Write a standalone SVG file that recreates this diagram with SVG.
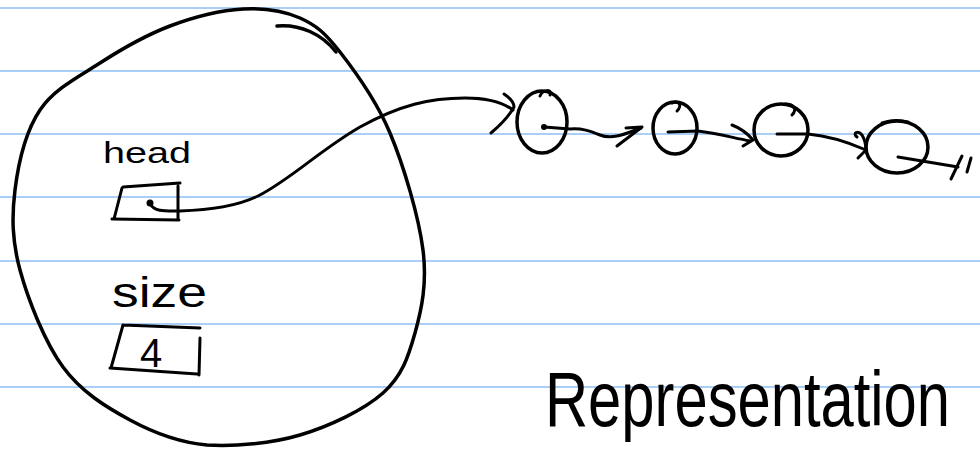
<svg xmlns="http://www.w3.org/2000/svg" width="980" height="449" viewBox="0 0 980 449">
<style>
.rule{stroke:#a9cff6;stroke-width:2}
.ink{fill:none;stroke:#000;stroke-width:3.5;stroke-linecap:round;stroke-linejoin:round}
.thin{fill:none;stroke:#000;stroke-width:3;stroke-linecap:round;stroke-linejoin:round}
.hand{font-family:"Liberation Sans",Arial,sans-serif;fill:#000}
</style>
<rect width="980" height="449" fill="#fff"/>
<g id="paper-lines">
<line class="rule" x1="0" y1="8" x2="980" y2="8"/>
<line class="rule" x1="0" y1="71" x2="980" y2="71"/>
<line class="rule" x1="0" y1="134" x2="980" y2="134"/>
<line class="rule" x1="0" y1="197" x2="980" y2="197"/>
<line class="rule" x1="0" y1="261" x2="980" y2="261"/>
<line class="rule" x1="0" y1="324" x2="980" y2="324"/>
<line class="rule" x1="0" y1="387" x2="980" y2="387"/>
</g>
<g id="object">
<path class="ink" d="M243,9 C264.7,7.7 283.8,10.8 300,18 C316.2,25.2 325,32.8 340,52 C355,71.2 376.2,100 390,133 C403.8,166 418.8,216.7 423,250 C427.2,283.3 421.7,309.2 415,333 C408.3,356.8 402.2,376 383,393 C363.8,410 329.3,426.3 300,435 C270.7,443.7 235.3,446.5 207,445 C178.7,442.5 154,433 130,420 C106,407 81.3,392 63,367 C44.7,342 28,299.5 20,270 C12,240.5 11.7,216.7 15,190 C18.3,163.3 25.8,131.2 40,110 C54.2,88.8 78.3,77 100,63 C121.7,49 146.2,35 170,26 C193.8,17 221.3,10.3 243,9 Z"/>
<path class="ink" d="M277,26 C300,24 322,34 336,52" stroke-width="4.5"/>
</g>
<g id="head-field">
<text class="hand" x="103" y="163" font-size="30" textLength="88" lengthAdjust="spacingAndGlyphs">head</text>
<path class="thin" d="M123,187 L180,183 M178,186 L178,220 M112,219 L179,220 M122,188 L114,219"/>
<circle cx="150" cy="203" r="3.5" fill="#000"/>
</g>
<g id="size-field">
<text class="hand" x="112" y="307" font-size="42" textLength="95" lengthAdjust="spacingAndGlyphs">size</text>
<path class="thin" d="M123,325 L200,328 M200,338 L199,375 M110,368 L197,374 M123,325 L111,368"/>
<text class="hand" x="151" y="367" font-size="40" text-anchor="middle">4</text>
</g>
<g id="node1">
<ellipse class="ink" cx="542" cy="122" rx="25" ry="31"/>
<path class="thin" d="M540,96 C543,89 553,89 550,95"/>
<circle cx="544" cy="127" r="3" fill="#000"/>
</g>
<g id="node2">
<ellipse class="ink" cx="675" cy="128" rx="22" ry="26"/>
<path class="thin" d="M672,103 C680,100 682,106 677,111"/>
</g>
<g id="node3">
<ellipse class="ink" cx="781" cy="130" rx="27" ry="26"/>
<path class="thin" d="M785,104 C795,104 797,110 792,115"/>
</g>
<g id="node4">
<ellipse class="ink" cx="897" cy="147" rx="31" ry="26"/>
<path class="thin" d="M882,123 C890,120 900,120 908,122" stroke-width="2"/>
</g>
<g id="connectors">
<path class="thin" d="M150,204 C155,212 165,211 180,211 C215,210 240,205 258,196 C290,180 320,150 360,127 C400,105 430,98 465,98 C490,98 505,104 513,110"/>
<path class="thin" d="M504,94 C510,98 514,103 514,107 C508,118 498,127 491,133"/>
<path class="thin" d="M544,127 L570,129 C582,128 590,131 600,135 C612,140 625,134 641,128"/>
<path class="thin" d="M626,128 L642,127 L617,146"/>
<path class="thin" d="M668,132 L698,131 C715,133 730,137 750,141"/>
<path class="thin" d="M732,125 C740,128 748,134 753,140 L743,146"/>
<path class="thin" d="M777,134 L808,134 C830,136 850,143 866,150"/>
<path class="thin" d="M857,137 C852,133 858,130 862,135 C865,140 866,145 866,150 L858,158"/>
<path class="thin" d="M898,157 L958,167"/>
<path class="thin" d="M962,156 L951,179 M971,158 L967,172"/>
</g>
<g id="caption">
<text class="hand" x="545" y="426" font-size="78" textLength="405" lengthAdjust="spacingAndGlyphs">Representation</text>
</g>
</svg>
